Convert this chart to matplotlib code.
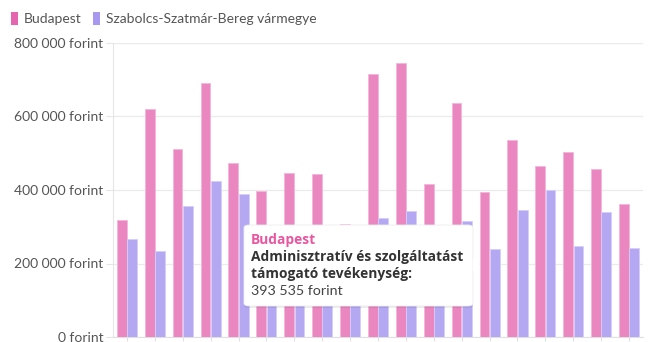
import matplotlib
matplotlib.use("Agg")
import matplotlib.pyplot as plt
import numpy as np
from matplotlib.patches import FancyBboxPatch, Polygon, Patch

categories = [
    "Mezőgazdaság, erdőgazdálkodás, halászat",
    "Bányászat, kőfejtés",
    "Feldolgozóipar",
    "Villamosenergia-, gáz-, gőzellátás, légkondicionálás",
    "Vízellátás, szennyvíz gyűjtése, kezelése",
    "Építőipar",
    "Kereskedelem, gépjárműjavítás",
    "Szállítás, raktározás",
    "Szálláshely-szolgáltatás, vendéglátás",
    "Információ, kommunikáció",
    "Pénzügyi, biztosítási tevékenység",
    "Ingatlanügyletek",
    "Szakmai, tudományos, műszaki tevékenység",
    "Adminisztratív és szolgáltatást támogató tevékenység",
    "Közigazgatás, védelem; kötelező társadalombiztosítás",
    "Oktatás",
    "Humán-egészségügyi, szociális ellátás",
    "Művészet, szórakoztatás, szabad idő",
    "Egyéb szolgáltatás",
]
budapest = [317500, 619600, 511600, 691000, 474400, 397000, 446000, 444500, 307500,
            715000, 745600, 416000, 637600, 393535, 535000, 464400, 502500, 456000, 361000]
szabolcs = [266700, 235000, 356500, 424500, 389000, 255000, 280000, 270000, 240000,
            323800, 342000, 290000, 315600, 239500, 345600, 400000, 248500, 340000, 243000]
series_names = ["Budapest", "Szabolcs-Szatmár-Bereg vármegye"]
yticks = [0, 200000, 400000, 600000, 800000]
ytick_labels = ["0 forint", "200 000 forint", "400 000 forint", "600 000 forint", "800 000 forint"]

FONT = "Lato"
plt.rcParams['font.family'] = [FONT, 'DejaVu Sans']

W, H = 656, 342
fig = plt.figure(figsize=(W / 100, H / 100), dpi=100)
ax = fig.add_axes([113 / W, 5 / H, (643 - 113) / W, (337 - 43) / H])

pink = "#EA86C0"
purple = "#B4A8F2"
x = np.arange(len(categories))
bw = 0.35
ax.bar(x - 0.185, budapest, width=bw, color=pink, edgecolor="#F4B6DA", linewidth=0.6, zorder=3)
ax.bar(x + 0.185, szabolcs, width=bw, color=purple, edgecolor="#D6CEF8", linewidth=0.6, zorder=3)

ax.set_xlim(-0.5, len(categories) - 0.5)
ax.set_ylim(0, 800000)
ax.set_yticks(yticks)
ax.set_yticklabels(ytick_labels, fontsize=10, color="#555555")
ax.tick_params(axis="y", length=5, color="#e6e6e6", pad=2)
ax.grid(axis="y", color="#ebebeb", linewidth=0.9, zorder=0)
ax.set_xticks(x)
ax.set_xticklabels(categories, rotation=-45, ha="left", fontsize=8, color="#555555")
ax.tick_params(axis="x", length=3, color="#e0e0e0", pad=3)
for s in ["top", "right"]:
    ax.spines[s].set_visible(False)
ax.spines["left"].set_color("#e6e6e6")
ax.spines["bottom"].set_color("#e0e0e0")

# legend
handles = [Patch(facecolor="#E565AF", edgecolor="none"), Patch(facecolor="#A898F0", edgecolor="none")]
fig.legend(handles, series_names, loc="upper left", bbox_to_anchor=(1 / W, 1 - 2 / H),
           ncol=2, frameon=False, fontsize=10, handlelength=0.55, handleheight=1.1,
           handletextpad=0.4, columnspacing=0.8, labelcolor="#555555", borderaxespad=0.3)

# tooltip
bx0, by0, bx1, by1 = 244, 225, 473, 306
shadow = FancyBboxPatch((bx0 / W, (H - by1 - 2) / H), (bx1 - bx0) / W, (by1 - by0) / H,
                        boxstyle="round,pad=0,rounding_size=0.008", transform=fig.transFigure,
                        facecolor="#000000", alpha=0.08, edgecolor="none", zorder=9)
fig.patches.append(shadow)
box = FancyBboxPatch((bx0 / W, (H - by1) / H), (bx1 - bx0) / W, (by1 - by0) / H,
                     boxstyle="round,pad=0,rounding_size=0.008", transform=fig.transFigure,
                     facecolor="white", edgecolor="#eeeeee", linewidth=0.6, zorder=10)
fig.patches.append(box)
tri = Polygon([(bx1 / W, (H - 258) / H), ((bx1 + 7) / W, (H - 265) / H), (bx1 / W, (H - 272) / H)],
              closed=True, transform=fig.transFigure, facecolor="white", edgecolor="none", zorder=11)
fig.patches.append(tri)

tx = 251 / W
tf = ["Open Sans", "DejaVu Sans"]
fig.text(tx, (H - 240) / H, "Budapest", color="#E8579F", fontsize=9.9, fontweight="bold",
         family=tf, va="center", zorder=12)
fig.text(tx, (H - 257) / H, "Adminisztratív és szolgáltatást", color="#333333", fontsize=9.9,
         fontweight="bold", family=tf, va="center", zorder=12)
fig.text(tx, (H - 274) / H, "támogató tevékenység:", color="#333333", fontsize=9.9,
         fontweight="bold", family=tf, va="center", zorder=12)
fig.text(tx, (H - 291) / H, "393 535 forint", color="#444444", fontsize=10.3, va="center", zorder=12)

fig.savefig("out.png", dpi=100)
